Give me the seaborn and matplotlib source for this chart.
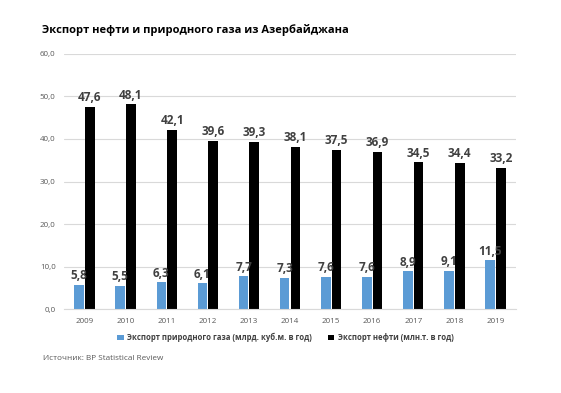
import pandas as pd
import numpy as np
import seaborn as sns
import matplotlib.pyplot as plt

## data
years = ["2009", "2010", "2011", "2012", "2013", "2014", "2015", "2016", "2017", "2018", "2019"]
gas = [5.8, 5.5, 6.3, 6.1, 7.7, 7.3, 7.6, 7.6, 8.9, 9.1, 11.5]
oil = [47.6, 48.1, 42.1, 39.6, 39.3, 38.1, 37.5, 36.9, 34.5, 34.4, 33.2]
gas_name = "Экспорт природного газа (млрд. куб.м. в год)"
oil_name = "Экспорт нефти (млн.т. в год)"

df = pd.DataFrame({
    "year": years * 2,
    "value": gas + oil,
    "series": [gas_name] * len(years) + [oil_name] * len(years),
})

sns.set_style("white")
plt.rcParams["font.family"] = ["Open Sans", "DejaVu Sans"]

fig = plt.figure(figsize=(5.61, 3.93), dpi=100)
ax = fig.add_axes([64 / 561, 1 - 309.3 / 393, (516 - 64) / 561, (309.3 - 53.7) / 393])

sns.barplot(data=df, x="year", y="value", hue="series",
            palette=["#5B9BD5", "#000000"], saturation=1, width=0.52, gap=0.1,
            linewidth=0, ax=ax, legend=True)

## value labels with decimal comma
for cont in ax.containers:
    vals = [b.get_height() for b in cont]
    ax.bar_label(cont, labels=[f"{v:.1f}".replace(".", ",") for v in vals],
                 padding=2, fontsize=8.5, fontweight="bold", color="#404040")

ax.set_ylim(0, 60)
ax.set_yticks(np.arange(0, 61, 10))
ax.set_yticklabels([f"{v:.1f}".replace(".", ",") for v in np.arange(0, 61, 10)])
ax.yaxis.grid(True, color="#d9d9d9", linewidth=0.8)
ax.set_axisbelow(True)
ax.set_xlabel("")
ax.set_ylabel("")
ax.tick_params(axis="both", length=0, labelsize=5.8, colors="#595959", pad=6)
for s in ["top", "right", "left"]:
    ax.spines[s].set_visible(False)
ax.spines["bottom"].set_color("#d9d9d9")

ax.legend(loc="upper center", bbox_to_anchor=(0.49, -0.065), ncol=2, frameon=False,
          handlelength=0.8, handleheight=0.8, columnspacing=2.0, handletextpad=0.5,
          prop={"size": 5.6, "weight": "bold"}, labelcolor="#404040")

fig.text(42 / 561, 1 - 30 / 393, "Экспорт нефти и природного газа из Азербайджана",
         fontsize=8, fontweight="bold", color="#000000", va="center")
fig.text(43 / 561, 1 - 359 / 393, "Источник: BP Statistical Review",
         fontsize=5.9, color="#595959", va="center")

plt.savefig("out.png", dpi=100)
